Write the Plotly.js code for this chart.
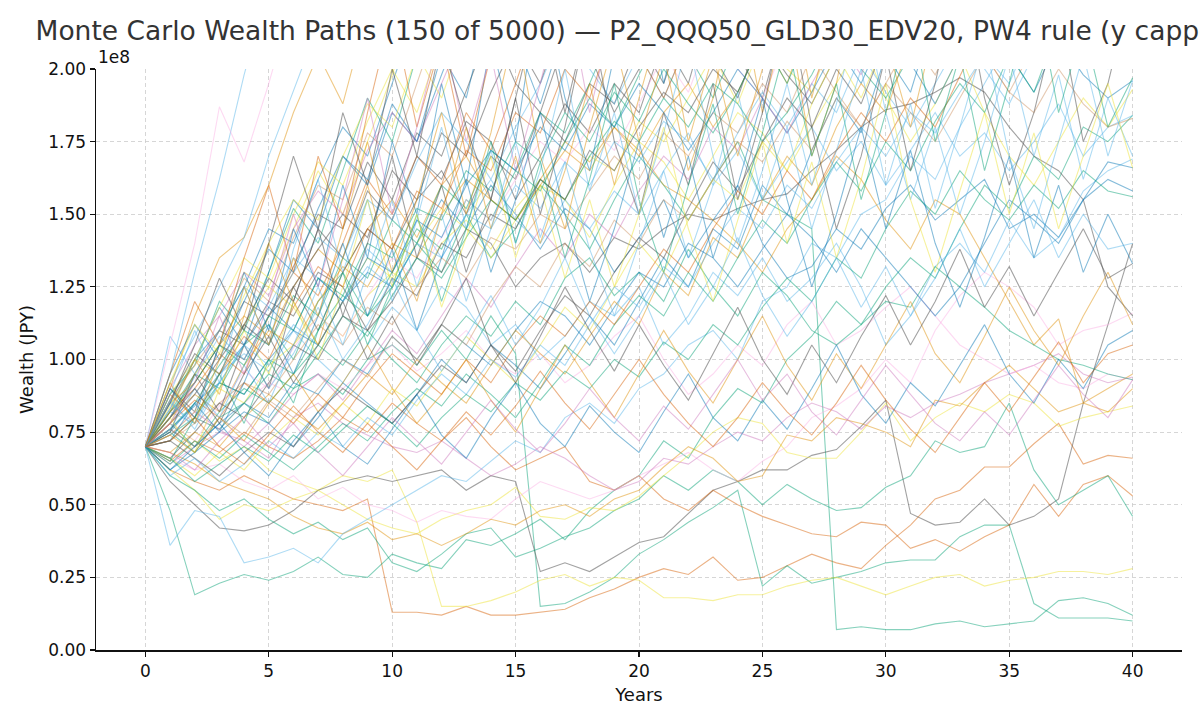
<!DOCTYPE html>
<html>
<head>
<meta charset="utf-8">
<script src="https://cdn.plot.ly/plotly-3.0.1.min.js"></script>
<style>
  html, body { margin: 0; padding: 0; background: #fff; }
  #container { width: 1200px; height: 720px; }
</style>
</head>
<body>
<div id="container"></div>
<script>
// wealth in units of 1e8 JPY, one value per year (0..40).
// paths that leave the capped window for good stop where they can no longer be read.
var years = [0,1,2,3,4,5,6,7,8,9,10,11,12,13,14,15,16,17,18,19,20,21,22,23,24,25,26,27,28,29,30,31,32,33,34,35,36,37,38,39,40];
var yTicks = [0, 0.25, 0.5, 0.75, 1.0, 1.25, 1.5, 1.75, 2.0];
var xTicks = [0, 5, 10, 15, 20, 25, 30, 35, 40];

// low paths
var path01 = [0.70,0.62,0.58,0.55,0.60,0.56,0.52,0.50,0.48,0.52,0.13,0.13,0.12,0.15,0.12,0.12,0.13,0.14,0.18,0.21,0.25,0.28,0.26,0.32,0.24,0.25,0.29,0.33,0.30,0.28,0.36,0.43,0.52,0.55,0.63,0.63,0.71,0.78,0.64,0.67,0.66];
var path02 = [0.70,0.82,0.95,0.90,1.05,1.12,1.00,1.20,1.30,1.15,1.25,1.40,1.30,1.50,1.35,1.45,1.60,1.50,1.38,1.55,1.70,1.60,1.48,1.62,1.75,1.55,1.50,1.45,0.07,0.08,0.07,0.07,0.09,0.10,0.08,0.09,0.10,0.17,0.18,0.16,0.12];
var path03 = [0.70,0.75,0.68,0.80,0.85,0.78,0.90,0.95,0.88,1.00,1.05,0.98,1.10,1.00,1.15,1.02,0.15,0.16,0.20,0.25,0.33,0.38,0.44,0.49,0.55,0.22,0.29,0.23,0.25,0.27,0.30,0.31,0.31,0.39,0.43,0.43,0.16,0.11,0.11,0.11,0.10];
var path04 = [0.70,0.62,0.55,0.45,0.50,0.48,0.52,0.55,0.60,0.58,0.62,0.44,0.15,0.15,0.17,0.20,0.24,0.26,0.22,0.25,0.24,0.18,0.18,0.17,0.19,0.19,0.22,0.24,0.25,0.22,0.19,0.22,0.25,0.26,0.22,0.24,0.25,0.27,0.27,0.26,0.28];
var path05 = [0.70,0.48,0.19,0.23,0.26,0.24,0.27,0.32,0.26,0.25,0.33,0.30,0.28,0.38,0.36,0.40,0.45,0.38,0.48,0.55,0.60,0.72,0.66,0.80,0.90,0.85,1.00,1.08,1.20,1.12,1.25,1.35,1.28,1.45,1.60,1.52,1.70,1.62,1.80,1.75,1.84];
var path06 = [0.70,0.58,0.50,0.42,0.41,0.43,0.48,0.55,0.58,0.60,0.58,0.60,0.62,0.55,0.60,0.58,0.27,0.30,0.27,0.32,0.37,0.39,0.47,0.55,0.58,0.62,0.62,0.67,0.69,0.77,0.86,0.47,0.43,0.44,0.52,0.43,0.46,0.52,0.85,1.12,1.40];
var path07 = [0.70,0.65,0.72,0.68,0.75,0.70,0.66,0.72,0.80,0.75,0.85,0.78,0.72,0.80,0.70,0.62,0.66,0.70,0.58,0.55,0.60,0.52,0.48,0.55,0.50,0.46,0.43,0.40,0.39,0.44,0.43,0.35,0.38,0.34,0.39,0.43,0.57,0.46,0.57,0.60,0.53];
var path08 = [0.70,0.60,0.55,0.48,0.52,0.45,0.40,0.44,0.38,0.42,0.30,0.27,0.33,0.40,0.42,0.32,0.35,0.39,0.42,0.48,0.52,0.60,0.55,0.62,0.58,0.50,0.57,0.52,0.48,0.49,0.56,0.60,0.72,0.68,0.70,0.85,0.62,0.50,0.55,0.60,0.46];
var path09 = [0.70,0.78,0.72,0.65,0.70,0.62,0.58,0.55,0.50,0.45,0.42,0.40,0.45,0.48,0.50,0.56,0.46,0.45,0.49,0.48,0.53,0.60,0.67,0.75,0.80,0.78,0.68,0.66,0.66,0.75,0.85,0.72,0.80,0.85,0.82,0.88,0.85,0.77,0.80,0.82,0.84];
var path10 = [0.70,0.66,0.62,0.64,0.58,0.55,0.60,0.52,0.56,0.50,0.48,0.44,0.48,0.46,0.45,0.52,0.58,0.55,0.52,0.55,0.60,0.64,0.68,0.62,0.58,0.65,0.70,0.80,0.84,0.90,1.00,0.92,1.10,1.22,1.30,1.25,1.18,1.05,1.10,1.12,1.16];
var path11 = [0.70,0.68,0.64,0.58,0.55,0.52,0.46,0.42,0.40,0.44,0.38,0.40,0.36,0.40,0.45,0.43,0.48,0.50,0.46,0.52,0.55,0.63,0.70,0.66,0.58,0.60,0.74,0.72,0.80,0.78,0.75,0.70,0.86,0.84,0.92,0.98,0.90,0.82,0.85,0.90,0.95];
var path12 = [0.70,0.36,0.48,0.46,0.30,0.32,0.35,0.30,0.40,0.45,0.50,0.55,0.60,0.58,0.65,0.72,0.68,0.80,0.85,0.78,0.90,0.95,1.05,1.10,1.00,1.20,1.25,1.40,1.35,1.50,1.55,1.70,1.62,1.80,1.95,2.10,2.30,2.20,2.50];
var path13 = [0.70,0.64,0.70,0.75,0.72,0.66,0.80,0.85,0.78,0.74,0.70,0.68,0.72,0.66,0.60,0.64,0.70,0.66,0.60,0.55,0.58,0.66,0.64,0.70,0.75,0.72,0.80,0.85,0.82,0.76,0.84,0.80,0.85,0.88,0.92,0.95,0.98,1.02,0.95,0.92,0.94];

// middle paths
var path14 = [0.70,0.80,0.95,1.10,1.05,1.20,1.15,1.30,1.25,1.10,1.20,1.35,1.30,1.45,1.40,1.25,1.35,1.40,1.30,1.42,1.38,1.45,1.50,1.48,1.52,1.55,1.57,1.65,1.72,1.80,1.86,1.88,1.92,1.97,1.92,1.80,1.70,1.65,1.55,1.25,1.15];
var path15 = [0.70,0.75,0.85,0.92,0.88,1.00,1.10,1.05,1.20,1.30,1.25,1.40,1.55,1.45,1.60,1.50,1.38,1.52,1.45,1.30,1.42,1.55,1.35,1.48,1.60,1.40,1.28,1.32,1.45,1.38,1.52,1.60,1.48,1.55,1.62,1.45,1.50,1.42,1.55,1.62,1.58];
var path16 = [0.70,0.82,0.78,0.95,1.02,0.96,1.10,1.00,0.92,1.05,1.18,1.10,1.25,1.18,1.05,1.12,1.00,1.08,1.20,1.15,1.25,1.05,1.15,1.30,1.22,1.35,1.20,1.28,1.40,1.25,1.05,1.15,1.32,1.40,1.30,1.48,1.35,1.42,1.58,1.65,1.69];
var path17 = [0.70,0.72,0.80,0.76,0.85,0.92,0.88,0.95,0.90,0.98,1.05,0.96,1.02,1.10,1.00,0.95,1.02,0.92,0.98,1.08,1.15,1.00,0.88,0.95,1.05,0.98,1.12,1.20,1.05,1.10,1.18,1.25,1.15,1.05,1.00,0.95,0.98,0.92,0.90,0.95,0.93];
var path18 = [0.70,0.85,0.92,1.05,1.15,1.08,1.25,1.38,1.30,1.45,1.55,1.42,1.60,1.70,1.55,1.48,1.62,1.75,1.68,1.80,1.72,1.60,1.55,1.48,1.40,1.30,1.45,1.55,1.70,1.62,1.48,1.38,1.55,1.50,1.35,1.20,1.05,1.14,0.85,0.82,0.90];
var path19 = [0.70,0.88,1.00,0.95,1.12,1.25,1.18,1.05,1.20,1.35,1.28,1.40,1.52,1.45,1.35,1.48,1.60,1.55,1.42,1.60,1.75,1.68,1.55,1.70,1.85,1.78,1.65,1.80,1.95,2.10,1.90,1.75,1.88,2.05,1.85,1.70,1.60,1.75,1.90,1.80,1.93];
var path20 = [0.70,0.78,0.70,0.82,0.90,0.85,0.95,1.05,0.98,1.10,1.00,0.92,1.05,1.15,1.08,1.20,1.12,1.28,1.35,1.22,1.30,1.20,1.38,1.25,1.15,1.30,1.22,1.10,1.05,1.12,1.20,1.18,1.32,1.25,1.18,1.10,1.05,1.00,0.98,0.95,0.93];
var path21 = [0.70,0.90,0.82,1.05,1.00,1.15,1.25,1.10,1.30,1.45,1.38,1.55,1.65,1.50,1.70,1.62,1.85,1.75,1.95,1.88,2.10,1.95,2.20,2.05,1.90,2.15,2.35,2.20,2.40,2.25,2.50,2.30,2.60];
var path22 = [0.70,1.08,0.95,1.10,1.25,1.18,1.35,1.28,1.20,1.38,1.30,1.48,1.35,1.50,1.62,1.48,1.40,1.55,1.45,1.58,1.50,1.65,1.78,1.60,1.72,1.55,1.68,1.80,1.65,1.75,1.60,1.72,1.85,1.70,1.78,1.65,1.75,1.88,1.70,1.80,1.84];
var path23 = [0.70,0.76,0.70,0.78,0.85,0.80,0.92,0.88,1.00,0.95,1.08,1.00,1.12,1.05,0.98,1.10,1.20,1.15,1.05,1.18,1.30,1.25,1.40,1.35,1.25,1.38,1.50,1.42,1.30,1.45,1.35,1.25,1.15,1.25,1.40,1.55,1.48,1.40,1.55,1.68,1.66];

// upper paths (leave the 2e8 cap)
var path24 = [0.70,0.95,1.30,1.62,1.98,2.30,2.60];
var path25 = [0.70,0.90,1.15,1.35,1.42,1.60,1.85,2.05,1.88,2.20,2.45,2.70];
var path26 = [0.70,0.85,1.00,1.10,1.25,1.45,1.40,1.62,1.80,1.70,1.95,2.20,2.05,2.35,2.60];
var path27 = [0.70,0.80,0.92,1.05,1.20,1.15,1.32,1.50,1.45,1.68,1.55,1.78,1.70,1.92,2.15,1.95,1.85,2.10,2.40,2.65];
var path28 = [0.70,0.88,0.98,1.20,1.10,1.30,1.52,1.40,1.65,1.90,1.75,2.05,2.30,2.55];
var path29 = [0.70,0.78,0.95,1.05,1.30,1.25,1.45,1.65,1.50,1.75,1.98,2.25,2.10,2.40,2.70];
var path30 = [0.70,1.05,1.40,1.87,1.68,1.95,2.25,2.55];
var path31 = [0.70,0.82,0.90,1.02,0.95,1.15,1.30,1.22,1.40,1.62,1.50,1.70,1.60,1.85,1.72,1.95,2.20,2.05,2.30,2.60];
var path32 = [0.70,0.76,0.85,0.98,1.10,1.05,1.22,1.15,1.35,1.28,1.48,1.40,1.60,1.52,1.72,1.65,1.85,1.78,1.95,2.15,2.00,2.30,2.55];
var path33 = [0.70,0.92,1.08,1.25,1.42,1.70,1.92,2.15,2.40];
var path34 = [0.70,0.83,1.00,1.18,1.05,1.30,1.55,1.45,1.70,1.60,1.85,1.75,2.05,1.90,2.25,2.10,1.88,2.15,2.40,2.70];
var path35 = [0.70,0.86,1.02,0.95,1.12,1.28,1.20,1.45,1.35,1.58,1.48,1.70,1.62,1.82,1.75,1.55,1.70,1.88,1.78,1.95,1.85,2.10,1.95,2.25,2.05,1.90,2.20,2.45,2.30,2.60];
var path36 = [0.70,0.80,0.88,0.82,0.98,1.10,1.05,1.20,1.32,1.25,1.40,1.35,1.50,1.62,1.55,1.48,1.60,1.72,1.65,1.80,1.70,1.85,1.95,1.80,1.92,2.10,1.95,2.20,2.05,2.35,2.15,2.40,2.60];
var path37 = [0.70,0.74,0.82,0.90,0.85,0.98,1.05,1.15,1.08,1.22,1.30,1.25,1.40,1.48,1.38,1.52,1.62,1.55,1.70,1.65,1.82,1.75,1.90,2.05,1.88,2.10,2.00,1.92,2.15,2.05,2.30,2.15,2.00,2.25,2.10,2.35,2.20,2.40,2.30,2.55,2.70];
var path38 = [0.70,0.90,1.05,1.15,1.30,1.22,1.45,1.58,1.50,1.72,1.85,1.75,1.95,2.15,2.05,2.30,2.50];
var path39 = [0.70,0.72,0.80,0.92,0.88,1.00,0.95,1.10,1.22,1.15,1.30,1.45,1.38,1.55,1.48,1.65,1.58,1.75,1.90,1.80,1.98,2.15,2.05,1.90,2.10,2.30,2.50];
var path40 = [0.70,0.95,1.12,1.00,1.20,1.38,1.30,1.52,1.70,1.62,1.88,1.75,1.98,2.20,2.10,2.40,2.65];
var path41 = [0.70,0.72,0.78,0.85,0.92,0.88,1.00,1.12,1.05,1.18,1.12,1.25,1.35,1.28,1.42,1.38,1.50,1.45,1.58,1.70,1.62,1.78,1.70,1.85,1.78,1.95,1.85,2.05,1.92,1.80,1.95,2.10,1.98,2.15,2.05,1.92,2.08,2.20,2.10,2.30,2.45];
var path42 = [0.70,0.78,0.88,1.00,1.12,1.05,1.25,1.38,1.50,1.42,1.65,1.55,1.78,1.70,1.92,2.10,1.95,2.20,2.05,1.85,2.00,2.25,2.10,2.35,2.55];
var path43 = [0.70,0.80,0.94,1.08,1.00,1.15,1.30,1.42,1.35,1.55,1.48,1.68,1.85,1.75,1.62,1.80,1.95,2.15,2.00,1.88,2.05,1.90,2.10,2.30,2.15,2.40,2.60];
var path44 = [0.70,0.84,1.00,1.18,1.35,1.28,1.50,1.68,1.60,1.82,2.00,1.85,2.10,2.35,2.60];
var path45 = [0.70,0.74,0.80,0.76,0.85,0.95,0.90,1.02,1.15,1.08,1.22,1.35,1.28,1.42,1.55,1.48,1.62,1.55,1.70,1.82,1.75,1.90,1.80,1.95,1.88,1.75,1.85,1.98,2.15,2.00,1.90,2.05,2.25,2.10,2.35,2.60];
var path46 = [0.70,0.78,0.72,0.84,0.96,0.90,1.04,1.15,1.08,1.22,1.35,1.28,1.42,1.55,1.48,1.62,1.75,1.68,1.80,1.72,1.88,2.05,1.92,2.15,2.00,1.90,2.10,2.30,2.50];
var path47 = [0.70,0.86,0.98,1.10,1.28,1.20,1.42,1.60,1.55,1.78,1.70,1.95,2.20,2.45];
var path48 = [0.70,0.76,0.84,0.95,1.05,1.18,1.10,1.28,1.20,1.35,1.30,1.48,1.42,1.60,1.72,1.65,1.80,1.72,1.88,1.80,1.95,1.85,1.72,1.85,2.00,1.90,1.78,1.92,2.08,1.95,2.15,2.02,1.88,2.05,2.20,2.05,1.92,2.10,1.98,1.90,1.96];
var path49 = [0.70,0.88,0.80,0.95,1.08,1.00,1.18,1.32,1.25,1.45,1.38,1.58,1.52,1.72,1.65,1.85,1.78,2.00,1.90,2.15,2.05,1.90,2.10,2.30,2.55];
var path50 = [0.70,0.66,0.75,0.85,0.80,0.92,1.05,1.00,1.15,1.10,1.28,1.22,1.40,1.35,1.50,1.45,1.62,1.55,1.72,1.65,1.80,1.92,1.85,2.00,1.92,2.10,1.98,1.88,2.05,2.20,2.10,2.35,2.50];
var path51 = [0.70,0.92,1.12,1.02,1.22,1.40,1.55,1.48,1.70,1.88,1.80,2.05,1.90,2.15,2.40];
var path52 = [0.70,0.82,0.92,1.05,0.98,1.15,1.10,1.28,1.22,1.40,1.35,1.52,1.48,1.65,1.58,1.75,1.68,1.85,1.75,1.92,1.82,2.00,1.88,1.78,1.92,2.10,1.95,2.15,2.05,2.25,2.45];
var path53 = [0.70,0.85,0.78,0.92,1.05,0.98,1.12,1.05,1.20,1.32,1.25,1.40,1.35,1.50,1.45,1.60,1.52,1.68,1.60,1.75,1.68,1.82,1.75,1.62,1.78,1.92,1.80,1.95,1.85,2.05,1.92,1.80,1.95,2.10,2.00,1.88,2.05,2.25,2.10,2.00,2.30];

// paths that wander in the middle band before climbing
var path54 = [0.70,0.68,0.75,0.70,0.80,0.88,0.82,0.76,0.85,0.95,0.88,1.00,0.92,0.85,0.98,1.10,1.02,0.95,1.08,1.20,1.12,1.30,1.22,1.42,1.35,1.55,1.70,1.60,1.80,1.95,1.85,2.10,2.30,2.55];
var path55 = [0.70,0.62,0.68,0.75,0.82,0.78,0.70,0.80,0.92,0.85,0.78,0.88,1.00,0.92,1.05,0.98,0.90,1.02,1.15,1.05,1.20,1.35,1.25,1.45,1.38,1.60,1.50,1.72,1.90,1.78,2.05,1.92,2.20,2.45];
var path56 = [0.70,0.66,0.60,0.68,0.62,0.72,0.80,0.74,0.85,0.78,0.90,0.84,0.96,1.08,1.00,0.92,1.05,1.18,1.10,1.25,1.40,1.30,1.48,1.62,1.55,1.75,1.65,1.88,2.05,1.90,2.10,2.35,2.60];
var path57 = [0.70,0.74,0.82,0.76,0.70,0.78,0.88,0.95,0.86,0.98,1.10,1.02,1.15,1.28,1.18,1.32,1.45,1.35,1.50,1.42,1.58,1.70,1.62,1.80,1.72,1.90,1.78,1.95,2.10,1.98,2.20,2.45];
var path58 = [0.70,0.64,0.72,0.66,0.74,0.68,0.62,0.70,0.78,0.72,0.82,0.90,0.84,0.95,0.88,0.80,0.92,1.05,0.98,1.12,1.22,1.15,1.30,1.20,1.35,1.48,1.40,1.55,1.68,1.58,1.75,1.65,1.82,1.95,1.85,2.05,1.92,2.15,2.35,2.50,2.70];
var path59 = [0.70,0.72,0.66,0.60,0.68,0.75,0.70,0.82,0.90,0.84,0.78,0.88,0.98,0.92,1.05,0.96,1.10,1.22,1.15,1.30,1.42,1.35,1.52,1.68,1.58,1.75,1.90,1.80,2.00,1.88,2.10,2.30];
var path60 = [0.70,0.78,0.86,0.80,0.92,0.85,0.78,0.88,0.80,0.92,1.02,0.95,0.88,1.00,0.92,1.05,1.15,1.08,1.20,1.12,1.25,1.38,1.30,1.45,1.58,1.50,1.65,1.55,1.72,1.85,1.75,1.90,1.80,1.98,2.15,2.00,2.25,2.45];
var path61 = [0.70,0.60,0.66,0.58,0.64,0.72,0.66,0.75,0.70,0.80,0.74,0.86,0.95,0.88,1.00,0.94,1.05,0.98,1.12,1.25,1.18,1.32,1.25,1.40,1.52,1.45,1.60,1.52,1.68,1.80,1.70,1.85,1.78,1.92,2.05,1.95,2.15,2.35,2.55];
var path62 = [0.70,0.66,0.58,0.64,0.70,0.65,0.74,0.68,0.76,0.84,0.78,0.70,0.80,0.88,0.82,0.92,0.86,0.96,0.90,1.00,0.94,1.06,1.00,1.12,1.05,1.18,1.28,1.20,1.35,1.28,1.45,1.58,1.50,1.65,1.55,1.48,1.60,1.52,1.65,1.58,1.56];
var path63 = [0.70,0.76,0.70,0.80,0.74,0.86,0.80,0.90,1.00,0.94,1.08,1.00,1.12,1.05,1.20,1.32,1.25,1.40,1.32,1.48,1.40,1.55,1.48,1.62,1.75,1.68,1.82,1.72,1.90,1.80,1.95,1.85,1.75,1.90,2.05,1.92,1.85,2.00,1.88,1.80,1.83];

// jagged paths swinging through the upper band
var path64 = [0.70,0.90,0.80,1.05,1.30,1.10,1.45,1.25,1.60,1.35,1.75,1.50,1.95,1.60,2.10,1.75,2.30,1.90,1.65,2.05,2.40,1.95,2.30,2.70];
var path65 = [0.70,0.82,1.00,0.88,1.15,1.40,1.20,1.05,1.35,1.60,1.30,1.55,1.85,1.50,1.78,2.15,1.70,1.45,1.80,2.10,1.75,2.05,1.65,1.90,2.30,1.85,2.20,1.70,1.95,2.40,2.10,1.80,2.15,2.50];
var path66 = [0.70,0.75,0.95,0.82,1.05,0.90,1.20,1.45,1.15,1.40,1.70,1.35,1.60,1.30,1.55,1.90,1.50,1.80,2.20,1.75,1.50,1.85,1.60,1.95,1.55,1.85,2.25,1.80,1.45,1.70,2.05,1.65,1.95,2.35,1.90,1.60,1.85,2.20,1.75,1.95,2.30];
var path67 = [0.70,0.88,1.10,0.92,1.25,1.05,1.38,1.62,1.30,1.55,1.20,1.48,1.80,1.45,1.72,1.40,1.65,2.00,1.58,1.85,1.50,1.78,2.10,1.70,1.40,1.65,1.95,1.60,1.88,2.25,1.85,1.55,1.80,1.50,1.75,2.05,1.70,1.98,1.62,1.90,1.70];
var path68 = [0.70,0.65,0.80,0.95,0.78,1.00,0.85,1.10,1.30,1.05,1.25,1.50,1.20,1.45,1.75,1.40,1.68,1.35,1.62,1.95,1.55,1.30,1.60,1.88,1.50,1.78,2.10,1.70,1.95,1.55,1.85,2.20,1.75,2.05,1.65,1.95,2.30,1.85,2.15,1.80,1.97];
var path69 = [0.70,0.80,0.68,0.90,1.10,0.95,1.20,1.00,1.25,1.55,1.25,1.50,1.18,1.42,1.70,1.35,1.60,1.28,1.55,1.25,1.50,1.80,1.45,1.20,1.48,1.75,1.40,1.68,1.35,1.62,1.95,1.55,1.30,1.58,1.85,1.50,1.78,1.45,1.70,1.95,1.66];
var path70 = [0.70,0.95,1.20,1.05,1.35,1.60,1.30,1.70,1.45,1.85,2.20,1.80,2.10,1.70,2.05,2.40];
var path71 = [0.70,0.78,0.92,1.15,0.95,1.20,1.50,1.25,1.55,1.90,1.50,1.80,2.15,1.75,2.05,1.65,1.95,2.30,1.85,2.20,2.60];
var path72 = [0.70,0.72,0.85,0.75,0.92,1.12,0.95,1.15,1.40,1.15,1.38,1.10,1.35,1.62,1.30,1.55,1.85,1.50,1.20,1.45,1.75,1.42,1.70,1.35,1.60,1.90,1.55,1.25,1.50,1.80,1.45,1.72,1.40,1.18,1.42,1.70,1.35,1.60,1.30,1.50,1.33];
var path73 = [0.70,0.85,1.05,1.28,1.10,1.40,1.70,1.45,1.85,1.60,2.00,1.70,2.10,1.80,1.55,1.90,2.25,1.85,2.20,2.60];
var path74 = [0.70,0.92,0.78,1.00,1.25,1.05,1.35,1.15,1.45,1.75,1.40,1.20,1.50,1.80,1.45,1.70,1.40,1.65,1.95,1.60,1.90,2.20,1.75,2.05,1.70,2.00,2.35,1.90,2.25,2.70];
var path75 = [0.70,0.76,0.90,0.80,0.98,0.85,1.05,1.25,1.05,1.30,1.55,1.25,1.50,1.20,1.45,1.75,1.42,1.68,1.38,1.15,1.40,1.65,1.35,1.60,1.92,1.55,1.80,1.45,1.72,2.00,1.60,1.88,1.52,1.80,2.10,1.70,1.45,1.75,2.05,1.70,1.96];

// jagged paths staying in the 0.6 - 1.5 band
var path76 = [0.70,0.74,0.68,0.80,0.72,0.85,0.95,0.82,0.92,1.05,0.90,0.78,0.88,1.00,0.86,0.75,0.90,1.05,0.92,0.80,0.95,1.10,0.96,0.85,1.00,1.15,0.98,0.86,1.02,0.90,1.05,1.20,1.02,0.92,1.08,1.25,1.10,0.98,1.15,1.30,1.12];
var path77 = [0.70,0.62,0.70,0.78,0.68,0.60,0.72,0.82,0.70,0.64,0.76,0.88,0.74,0.66,0.80,0.92,0.78,0.70,0.84,0.75,0.68,0.82,0.95,0.80,0.72,0.86,0.76,0.90,1.05,0.88,0.78,0.92,0.84,0.98,1.12,0.95,0.85,1.00,0.90,1.05,1.10];
var path78 = [0.70,0.80,0.90,0.78,0.95,1.08,0.92,1.05,1.20,1.00,1.15,0.98,1.12,1.28,1.05,0.92,1.08,1.25,1.10,0.96,1.12,0.98,0.86,1.02,1.18,1.00,0.88,1.05,0.92,1.08,1.22,1.05,1.20,1.38,1.18,1.32,1.15,1.30,1.45,1.28,1.33];
var path79 = [0.70,0.68,0.62,0.72,0.80,0.70,0.78,0.68,0.60,0.70,0.80,0.72,0.64,0.75,0.86,0.76,0.68,0.78,0.90,0.80,0.72,0.84,0.76,0.88,1.00,0.86,0.95,0.82,0.74,0.86,0.98,0.88,0.78,0.72,0.82,0.74,0.86,0.98,0.88,0.80,0.93];
var path80 = [0.70,0.86,0.76,0.92,1.05,0.90,1.02,1.18,1.00,1.12,1.28,1.10,0.96,1.08,1.22,1.05,1.18,1.35,1.15,1.02,1.15,1.30,1.12,1.25,1.42,1.22,1.08,1.20,1.35,1.18,1.32,1.15,1.28,1.45,1.25,1.40,1.55,1.35,1.50,1.38,1.40];
var path81 = [0.70,0.72,0.80,0.70,0.64,0.74,0.84,0.75,0.68,0.78,0.70,0.62,0.72,0.82,0.74,0.84,0.96,0.85,0.76,0.88,1.00,0.88,0.78,0.70,0.80,0.92,0.82,0.74,0.85,0.98,0.86,0.76,0.68,0.80,0.92,0.82,0.94,1.06,0.92,1.02,1.05];

var allPaths = [path01,path02,path03,path04,path05,path06,path07,path08,path09,path10,path11,path12,path13,
  path14,path15,path16,path17,path18,path19,path20,path21,path22,path23,
  path24,path25,path26,path27,path28,path29,path30,path31,path32,path33,path34,path35,path36,path37,path38,path39,
  path40,path41,path42,path43,path44,path45,path46,path47,path48,path49,path50,path51,path52,path53,
  path54,path55,path56,path57,path58,path59,path60,path61,path62,path63,
  path64,path65,path66,path67,path68,path69,path70,path71,path72,path73,path74,path75,
  path76,path77,path78,path79,path80,path81];

// colour cycle (seaborn colorblind-ish) and the slot each path uses
var palette = ['#0173b2','#de8f05','#029e73','#d55e00','#cc78bc','#ca9161','#fbafe4','#555555','#ece133','#56b4e9'];
var colorSlot = [3,2,2,8,2,7,3,2,8,6,1,9,4,
  7,0,9,6,1,8,2,7,9,0,
  9,1,0,7,2,8,6,3,2,9,0,7,1,8,4,2,
  0,5,7,9,8,2,6,5,0,3,7,8,2,9,
  1,0,8,4,2,7,3,9,2,5,
  0,1,7,9,2,8,3,4,0,7,1,9,
  1,0,7,4,9,3];

function rgba(hex, a) {
  var r = parseInt(hex.slice(1,3),16), g = parseInt(hex.slice(3,5),16), b = parseInt(hex.slice(5,7),16);
  return 'rgba(' + r + ',' + g + ',' + b + ',' + a + ')';
}

var data = allPaths.map(function(p, i) {
  var c = palette[colorSlot[i]];
  return {
    x: years.slice(0, p.length),
    y: p,
    mode: 'lines',
    type: 'scatter',
    hoverinfo: 'skip',
    line: {color: rgba(c, colorSlot[i] === 7 ? 0.55 : 0.48), width: 1.1}
  };
});

var tickFont = {family: 'DejaVu Sans, sans-serif', size: 17, color: '#111'};

var layout = {
  width: 1200, height: 720,
  paper_bgcolor: '#fff', plot_bgcolor: '#fff',
  showlegend: false,
  margin: {l: 96, r: 18, t: 69, b: 70},
  title: {
    text: 'Monte Carlo Wealth Paths (150 of 5000) — P2_QQQ50_GLD30_EDV20, PW4 rule (y capped)',
    font: {family: 'DejaVu Sans, sans-serif', size: 26.5, color: '#333'},
    xref: 'paper', x: 0.5, xanchor: 'center',
    yref: 'container', y: 0.958, yanchor: 'middle'
  },
  xaxis: {
    range: [-2, 42],
    tickvals: xTicks,
    ticktext: xTicks.map(String),
    ticks: 'outside', ticklen: 5, tickwidth: 1.2, tickcolor: '#111',
    showline: true, linecolor: '#111', linewidth: 1.5,
    showgrid: true, gridcolor: '#cccccc', griddash: '4px,3px', gridwidth: 0.8,
    zeroline: false,
    tickfont: tickFont,
    title: {text: 'Years', font: {family: 'DejaVu Sans, sans-serif', size: 18, color: '#111'}, standoff: 8}
  },
  yaxis: {
    range: [0, 2.0],
    tickvals: yTicks,
    ticktext: yTicks.map(function(v) { return v.toFixed(2); }),
    ticks: 'outside', ticklen: 5, tickwidth: 1.2, tickcolor: '#111',
    showline: true, linecolor: '#111', linewidth: 1.5,
    showgrid: true, gridcolor: '#cccccc', griddash: '4px,3px', gridwidth: 0.8,
    zeroline: false,
    tickfont: tickFont,
    title: {text: 'Wealth (JPY)', font: {family: 'DejaVu Sans, sans-serif', size: 18, color: '#111'}, standoff: 10}
  },
  annotations: [{
    text: '1e8', xref: 'paper', yref: 'paper', x: 0, y: 1,
    xanchor: 'left', yanchor: 'bottom', showarrow: false,
    font: {family: 'DejaVu Sans, sans-serif', size: 17, color: '#111'}
  }]
};

Plotly.newPlot('container', data, layout, {displayModeBar: false, staticPlot: true});
</script>
</body>
</html>
